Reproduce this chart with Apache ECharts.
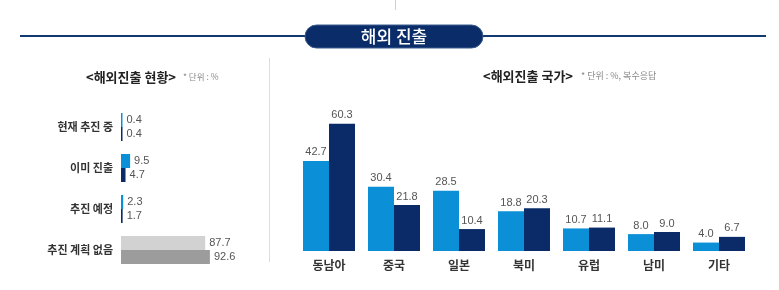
<!DOCTYPE html>
<html><head><meta charset="utf-8">
<script src="https://cdn.jsdelivr.net/npm/echarts@6/dist/echarts.min.js"></script>
<style>html,body{margin:0;padding:0;background:#fff}#c{width:779px;height:290px}</style>
</head><body><div id="c"></div>
<script>
// Left chart data
const statusCats = ['현재 추진 중', '이미 진출', '추진 예정', '추진 계획 없음'];
const statusA = [0.4, 9.5, 2.3, 87.7];
const statusB = [0.4, 4.7, 1.7, 92.6];
// Right chart data
const countryCats = ['동남아', '중국', '일본', '북미', '유럽', '남미', '기타'];
const countryA = [42.7, 30.4, 28.5, 18.8, 10.7, 8.0, 4.0];
const countryB = [60.3, 21.8, 10.4, 20.3, 11.1, 9.0, 6.7];

const LIGHT = '#0b8fd6', DARK = '#0a2a68';
const GLIGHT = '#d2d2d2', GDARK = '#9c9c9c';
const KR = '"Noto Sans CJK KR", sans-serif';
const NUM = '"Liberation Sans", Arial, sans-serif';

const chart = echarts.init(document.getElementById('c'), null, {renderer: 'canvas'});

const leftA = statusA.map((v, i) => ({value: v, itemStyle: {color: i === 3 ? GLIGHT : LIGHT}}));
const leftB = statusB.map((v, i) => ({value: v, itemStyle: {color: i === 3 ? GDARK : DARK}}));

const numLabel = {show: true, fontFamily: NUM, fontSize: 11, color: '#555'};

chart.setOption({
  animation: false,
  grid: [
    {left: 121, top: 106.5, width: 96, height: 164},
    {left: 296.5, top: 103.3, width: 455, height: 147.7}
  ],
  xAxis: [
    {gridIndex: 0, type: 'value', min: 0, max: 100, show: false},
    {gridIndex: 1, type: 'category', data: countryCats,
     axisLine: {show: false}, axisTick: {show: false},
     axisLabel: {fontFamily: KR, fontSize: 12, fontWeight: 'bold', color: '#333', margin: 8}}
  ],
  yAxis: [
    {gridIndex: 0, type: 'category', data: statusCats, inverse: true,
     axisLine: {show: false}, axisTick: {show: false},
     axisLabel: {fontFamily: KR, fontSize: 11, fontWeight: 'bold', color: '#333', margin: 8}},
    {gridIndex: 1, type: 'value', min: 0, max: 70, show: false}
  ],
  series: [
    {type: 'bar', xAxisIndex: 0, yAxisIndex: 0, data: leftA, barWidth: 14, barGap: '0%', barMinHeight: 1.5,
     label: Object.assign({position: 'right', distance: 4}, numLabel)},
    {type: 'bar', xAxisIndex: 0, yAxisIndex: 0, data: leftB, barWidth: 14, barGap: '0%', barMinHeight: 1.5,
     label: Object.assign({position: 'right', distance: 4}, numLabel)},
    {type: 'bar', xAxisIndex: 1, yAxisIndex: 1, data: countryA, barWidth: 26, barGap: '0%',
     itemStyle: {color: LIGHT},
     label: Object.assign({position: 'top', distance: 3, formatter: p => p.value.toFixed(1)}, numLabel)},
    {type: 'bar', xAxisIndex: 1, yAxisIndex: 1, data: countryB, barWidth: 26, barGap: '0%',
     itemStyle: {color: DARK},
     label: Object.assign({position: 'top', distance: 3, formatter: p => p.value.toFixed(1)}, numLabel)}
  ],
  graphic: [
    {type: 'line', shape: {x1: 395.5, y1: 0, x2: 395.5, y2: 10}, style: {stroke: '#cfcfcf', lineWidth: 1}},
    {type: 'line', shape: {x1: 20, y1: 36, x2: 766, y2: 36}, style: {stroke: '#123a72', lineWidth: 2}},
    {type: 'rect', shape: {x: 305, y: 25, width: 178, height: 23, r: 11.5},
     style: {fill: '#0a2d6a', stroke: '#3d5d8f', lineWidth: 1}},
    {type: 'text', x: 394, y: 36.5, style: {text: '해외 진출', fill: '#fff', font: '500 17px ' + KR, align: 'center', verticalAlign: 'middle'}},
    {type: 'line', shape: {x1: 269.5, y1: 58, x2: 269.5, y2: 262}, style: {stroke: '#dedede', lineWidth: 1}},
    {type: 'text', x: 131, y: 77, style: {text: '<해외진출 현황>', fill: '#222', font: 'bold 13px ' + KR, align: 'center', verticalAlign: 'middle'}},
    {type: 'text', x: 183, y: 77, style: {text: '* 단위 : %', fill: '#888', font: '8.5px ' + KR, align: 'left', verticalAlign: 'middle'}},
    {type: 'text', x: 528, y: 76, style: {text: '<해외진출 국가>', fill: '#222', font: 'bold 13px ' + KR, align: 'center', verticalAlign: 'middle'}},
    {type: 'text', x: 581, y: 76, style: {text: '* 단위 : %, 복수응답', fill: '#888', font: '9px ' + KR, align: 'left', verticalAlign: 'middle'}}
  ]
});
</script></body></html>
